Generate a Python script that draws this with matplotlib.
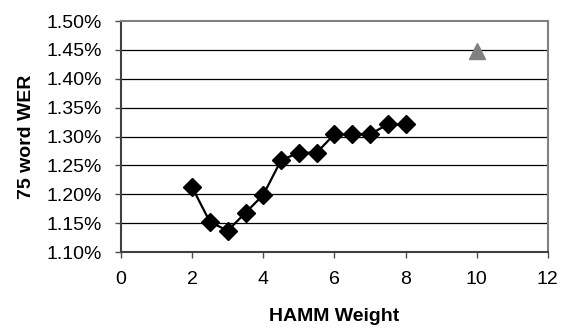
import numpy as np
import matplotlib.pyplot as plt
from matplotlib.ticker import FuncFormatter

# HAMM weight sweep (diamonds) and the single baseline point (triangle)
weights = [2, 2.5, 3, 3.5, 4, 4.5, 5, 5.5, 6, 6.5, 7, 7.5, 8]
wer = [1.212, 1.152, 1.137, 1.168, 1.199, 1.259, 1.272, 1.272, 1.304, 1.304, 1.304, 1.321, 1.321]
base_x = [10]
base_wer = [1.449]

xticks = [0, 2, 4, 6, 8, 10, 12]
yticks = [1.10, 1.15, 1.20, 1.25, 1.30, 1.35, 1.40, 1.45, 1.50]

plt.rcParams['font.family'] = ['Liberation Sans', 'DejaVu Sans']

fig = plt.figure(figsize=(5.63, 3.29), dpi=100)
ax = fig.add_axes([0.215, 0.234, 0.758, 0.702])

for y in yticks[1:-1]:
    ax.axhline(y, color='black', lw=0.9, zorder=1)

ax.plot(weights, wer, color='black', lw=1.6, marker='D', markersize=9, zorder=3)
ax.plot(base_x, base_wer, ls='none', marker='^', color='#808080', markersize=11, zorder=3)

ax.set_xlim(0, 12)
ax.set_ylim(1.10, 1.50)
ax.set_xticks(xticks)
ax.set_yticks(yticks)
ax.yaxis.set_major_formatter(FuncFormatter(lambda v, p: f"{v:.2f}%"))
ax.tick_params(direction='out', length=4, width=1, colors='#505050', labelcolor='black', labelsize=14)
ax.tick_params(axis='x', pad=10)
ax.tick_params(axis='y', pad=10)

for s in ax.spines.values():
    s.set_color('#808080')
    s.set_linewidth(1.5)
ax.spines['left'].set_color('#404040')
ax.spines['bottom'].set_color('#404040')

ax.set_xlabel('HAMM Weight', fontsize=14, fontweight='bold', labelpad=14)
ax.set_ylabel('75 word WER', fontsize=14, fontweight='bold', labelpad=8)

fig.savefig('out.png', dpi=100)
